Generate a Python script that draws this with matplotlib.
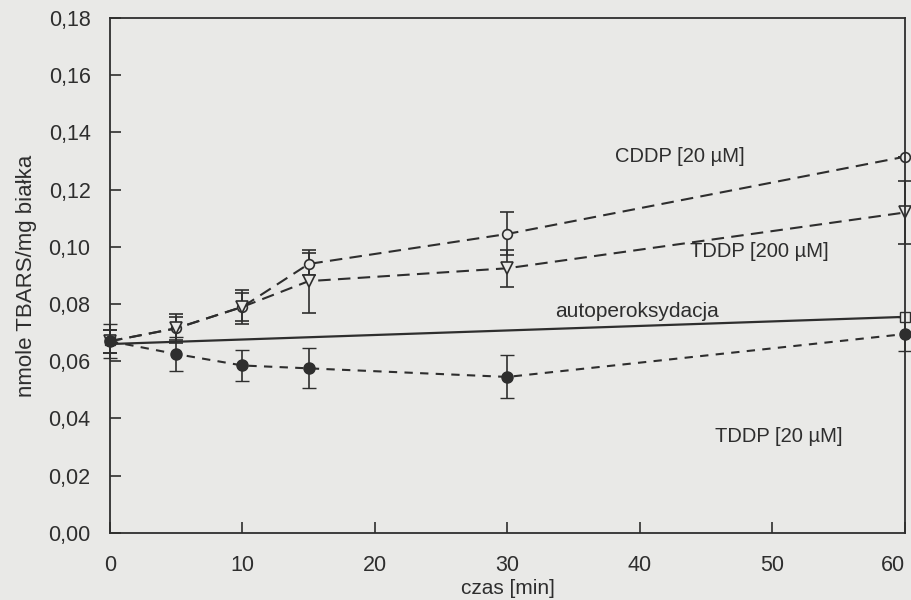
import matplotlib.pyplot as plt

plt.rcParams['font.family'] = ['Liberation Sans', 'DejaVu Sans']

# data
t = [0, 5, 10, 15, 30, 60]
cddp20 = [0.067, 0.0715, 0.079, 0.094, 0.1045, 0.1315]
cddp20_err = [0.004, 0.005, 0.005, 0.004, 0.0075, 0.0]
tddp200 = [0.067, 0.0715, 0.079, 0.088, 0.0925, 0.112]
tddp200_err = [0.004, 0.004, 0.006, 0.011, 0.0065, 0.011]
tddp20 = [0.067, 0.0625, 0.0585, 0.0575, 0.0545, 0.0695]
tddp20_err = [0.006, 0.006, 0.0055, 0.007, 0.0075, 0.006]
t_auto = [0, 60]
auto = [0.066, 0.0755]
auto_marks = [0.0675, 0.0755]

yticks = [0.00, 0.02, 0.04, 0.06, 0.08, 0.10, 0.12, 0.14, 0.16, 0.18]
ytick_labels = ['0,00', '0,02', '0,04', '0,06', '0,08', '0,10', '0,12', '0,14', '0,16', '0,18']
xticks = [0, 10, 20, 30, 40, 50, 60]

bg = '#e9e9e7'
ink = '#2e2e2e'

fig = plt.figure(figsize=(9.11, 6), dpi=100, facecolor=bg)
ax = fig.add_axes([0.1207, 0.112, 0.8727, 0.858])
ax.set_facecolor(bg)

ax.errorbar(t, cddp20, yerr=cddp20_err, color=ink, lw=1.5, ls=(0, (6, 3.5)),
            marker='o', ms=7, mfc=bg, mec=ink, mew=1.2, capsize=5, elinewidth=1.2, clip_on=False)
ax.errorbar(t, tddp200, yerr=tddp200_err, color=ink, lw=1.5, ls=(0, (6, 3.5)),
            marker='v', ms=8, mfc=bg, mec=ink, mew=1.2, capsize=5, elinewidth=1.2, clip_on=False)
ax.errorbar(t, tddp20, yerr=tddp20_err, color=ink, lw=1.5, ls=(0, (4, 3.5)),
            marker='o', ms=8, mfc=ink, mec=ink, capsize=5, elinewidth=1.2, clip_on=False)
ax.plot(t_auto, auto, color=ink, lw=1.6, clip_on=False)
ax.plot(t_auto[:1], auto_marks[:1], ls='none', marker='s', ms=7, mfc=ink, mec=ink, clip_on=False)
ax.plot(t_auto[1:], auto_marks[1:], ls='none', marker='s', ms=7, mfc=bg, mec=ink, clip_on=False)

ax.text(43, 0.1315, 'CDDP [20 µM]', ha='center', va='center', fontsize=14.5, color=ink)
ax.text(49, 0.0985, 'TDDP [200 µM]', ha='center', va='center', fontsize=14.5, color=ink)
ax.text(39.8, 0.0775, 'autoperoksydacja', ha='center', va='center', fontsize=15, color=ink)
ax.text(50.5, 0.0335, 'TDDP [20 µM]', ha='center', va='center', fontsize=14.5, color=ink)

ax.set_xlim(0, 60)
ax.set_ylim(0, 0.18)
ax.set_xticks(xticks)
ax.set_yticks(yticks)
ax.set_yticklabels(ytick_labels)
ax.tick_params(direction='in', length=8, width=1.2, color=ink, labelcolor=ink, labelsize=15.5)
ax.tick_params(axis='x', pad=16)
ax.tick_params(axis='y', pad=14)
ax.get_xticklabels()[-1].set_horizontalalignment('right')
for s in ax.spines.values():
    s.set_color(ink)
    s.set_linewidth(1.3)

ax.set_xlabel('czas [min]', fontsize=15, color=ink, labelpad=2)
ax.set_ylabel('nmole TBARS/mg białka', fontsize=16, color=ink, labelpad=8)

fig.savefig('out.png', dpi=100, facecolor=bg)
